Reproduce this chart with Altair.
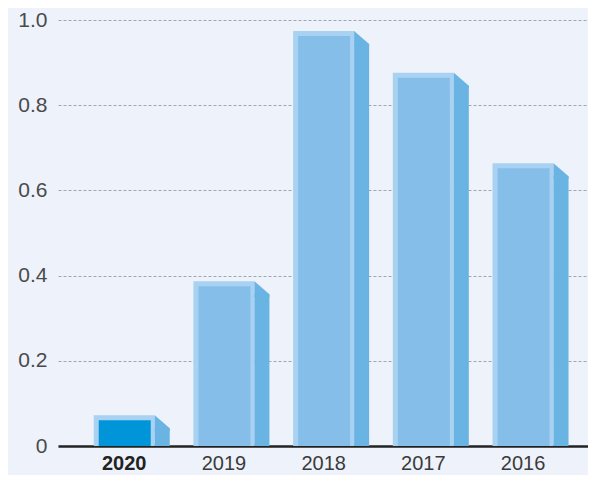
import altair as alt
import pandas as pd

years = ["2020", "2019", "2018", "2017", "2016"]
values = [0.072, 0.387, 0.974, 0.876, 0.664]
inner_colors = ["#0095D8", "#86BEEA", "#86BEEA", "#86BEEA", "#86BEEA"]
y_ticks = [0, 0.2, 0.4, 0.6, 0.8, 1.0]

df = pd.DataFrame({"year": years, "value": values, "inner": inner_colors})

BG = "#EEF2FB"
OUTER = "#A9D1F1"
SIDE = "#6AB4E4"

x_enc = alt.X(
    "year:N",
    sort=years,
    scale=alt.Scale(paddingInner=0, paddingOuter=0.158, align=0.52, round=False),
    axis=alt.Axis(
        title=None,
        labelAngle=0,
        ticks=False,
        tickSize=0,
        domainColor="#222222",
        domainWidth=2.5,
        labelFont="Liberation Sans",
        labelFontSize=20,
        labelPadding=7,
        labelColor={"condition": {"test": "datum.value == '2020'", "value": "#222222"}, "value": "#3a3a3a"},
        labelFontWeight={"condition": {"test": "datum.value == '2020'", "value": "bold"}, "value": "normal"},
        grid=False,
    ),
)

y_enc = alt.Y(
    "value:Q",
    scale=alt.Scale(domain=[0, 1], nice=False, zero=True),
    axis=alt.Axis(
        title=None,
        values=y_ticks,
        labelExpr="datum.value == 0 ? '0' : format(datum.value, '.1f')",
        domain=False,
        ticks=False,
        tickSize=0,
        labelPadding=11,
        labelFont="Liberation Sans",
        labelFontSize=21,
        labelColor="#4a4a4a",
        grid=True,
        gridColor="#A4A6AE",
        gridDash=[3, 2],
        gridWidth=1,
    ),
)

base = alt.Chart(df)

front_outer = base.mark_bar(width=61, color=OUTER).encode(
    x=x_enc, y=y_enc, y2=alt.datum(0)
)

front_inner = base.mark_bar(width=52, xOffset=0.5, yOffset=5, y2Offset=0).encode(
    x=alt.X("year:N", sort=years),
    y="value:Q",
    y2=alt.datum(0),
    color=alt.Color("inner:N", scale=None),
)

side_rect = base.mark_bar(width=15, xOffset=38, yOffset=13, y2Offset=0, color=SIDE).encode(
    x=alt.X("year:N", sort=years),
    y="value:Q",
    y2=alt.datum(0),
)

side_top = base.mark_point(
    shape="M -1 0 L 1 1.7333 L 1 2.1 L -1 2.1 Z",
    size=225,
    filled=True,
    opacity=1,
    strokeWidth=0,
    color=SIDE,
    xOffset=38,
).encode(
    x=alt.X("year:N", sort=years),
    y="value:Q",
)

chart = (
    alt.layer(front_outer, front_inner, side_rect, side_top)
    .properties(
        width=530,
        height=426,
        autosize=alt.AutoSizeParams(type="none"),
        padding={"left": 50, "top": 12, "right": 0, "bottom": 29},
        background=BG,
    )
    .configure_view(stroke=None)
)

chart.save("out.html", embed_options={"renderer": "svg", "actions": False})
